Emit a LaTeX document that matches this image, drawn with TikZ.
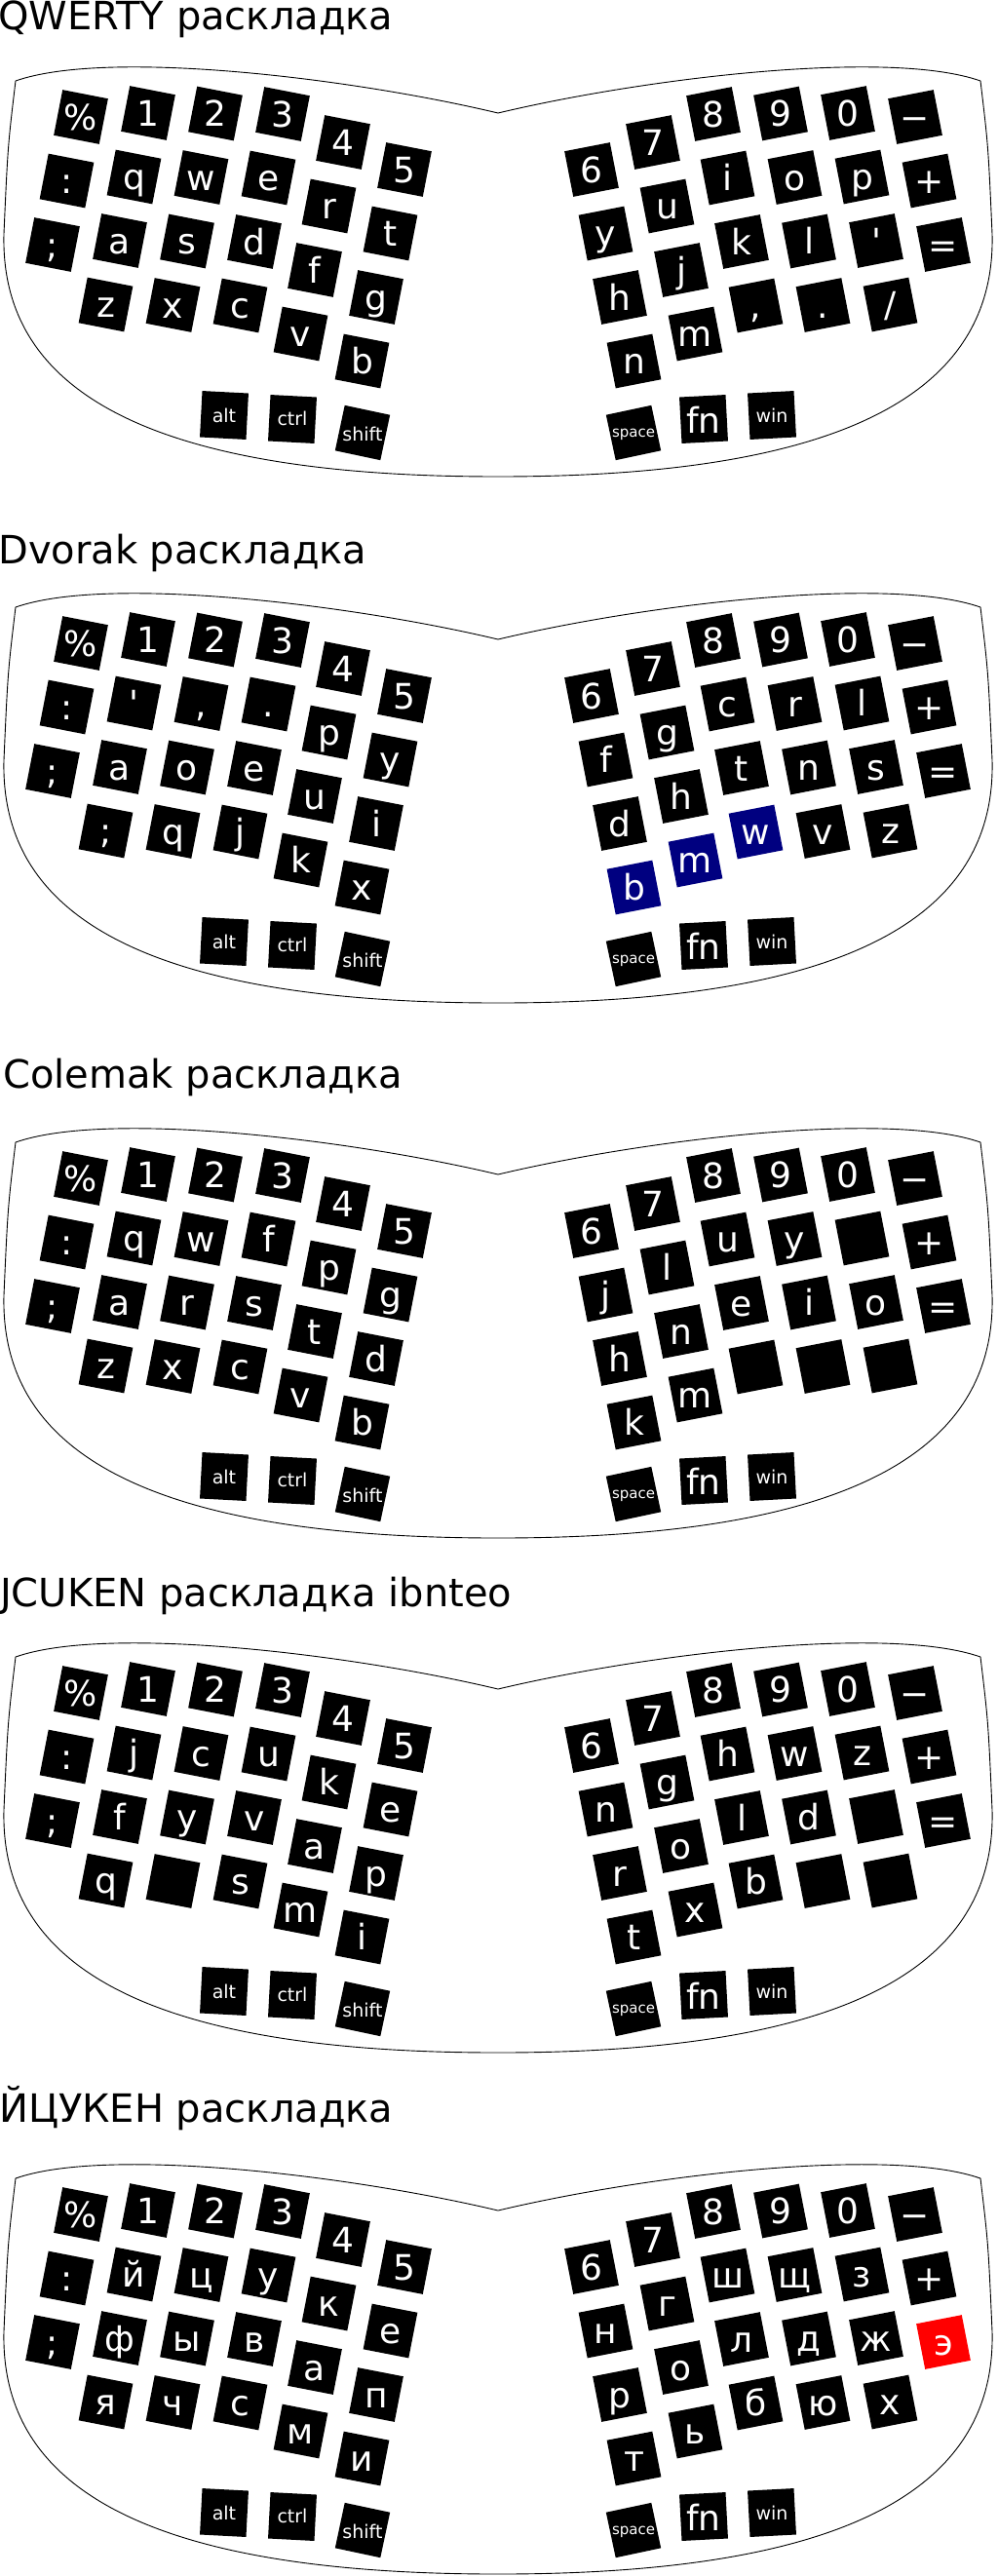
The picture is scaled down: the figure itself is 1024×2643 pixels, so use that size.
\documentclass[tikz,border=0pt]{standalone}
\usepackage{fontspec}
\setmainfont{DejaVu Sans}
\newfontfamily\keyfont{DejaVu Sans}
\definecolor{keyblue}{RGB}{0,0,128}
\definecolor{keyred}{RGB}{255,0,0}
\def\colx{{83,152,221,290,352,415}}
\def\coly{{120,116,116.5,117,146,174}}
\newcommand\keyL[5]{%
  \pgfmathsetmacro\kx{\colx[#2]-14.5*#1}%
  \pgfmathsetmacro\ky{\coly[#2]+65.5*#1}%
  \node[key, fill=#4, rotate=-11] (#5) at (\kx,\ky) {};
  \node[klbl] (t#5) at ([yshift=-13pt]#5.center) {#3};
}
\newcommand\keyR[5]{%
  \pgfmathtruncatemacro\kj{5-#2}%
  \pgfmathsetmacro\kx{1022-\colx[\kj]+14.5*#1}%
  \pgfmathsetmacro\ky{\coly[\kj]+65.5*#1}%
  \node[key, fill=#4, rotate=11] (#5) at (\kx,\ky) {};
  \node[klbl] (t#5) at ([yshift=-13pt]#5.center) {#3};
}
\begin{document}
\begin{tikzpicture}[x=1pt, y=-1pt,
  key/.style={fill=black, minimum size=47.5pt, inner sep=0pt, outer sep=0pt},
  klbl/.style={anchor=base, inner sep=0pt, text=white, font=\keyfont\fontsize{36}{36}\selectfont},
  ksmall/.style={klbl, font=\keyfont\fontsize{19}{19}\selectfont},
  kspace/.style={klbl, font=\keyfont\fontsize{15}{15}\selectfont},
  title/.style={anchor=base west, inner sep=0pt, font=\fontsize{40}{40}\selectfont},
  case/.style={draw=black, line width=0.9pt}]
\useasboundingbox (0,0) rectangle (1024,2643);
\foreach \dy/\n in {0/q,540/d,1089/c,1617/j,2152/y}
{
  \begin{scope}[shift={(0,\dy)}]
    \draw[case] (511,116) .. controls (360,80) and (110,50) .. (16,83)
      .. controls (8,150) .. (4,240)
      .. controls (0,400) and (150,489) .. (511,489)
      .. controls (872,489) and (1022,400) .. (1018,240)
      .. controls (1014,150) .. (1006,83)
      .. controls (912,50) and (662,80) .. (511,116) -- cycle;
    \foreach \t [count=\c from 0] in {\%,1,2,3,4,5} {\keyL{0}{\c}{\t}{black}{\n-L0-\c}}
    \foreach \t [count=\c from 0] in {6,7,8,9,0,−} {\keyR{0}{\c}{\t}{black}{\n-R0-\c}}
    \foreach \x/\y/\a/\t/\s/\b in {230/426/-3/alt/ksmall/7, 300/430/-3/ctrl/ksmall/6,
      372/444/-12/shift/ksmall/8, 650/444/12/space/kspace/4, 722/430/3/fn/klbl/14,
      792/426/3/win/ksmall/7}
    {
      \node[key, rotate=\a] (\n-\t) at (\x,\y) {};
      \node[\s] (t\n-\t) at ([yshift=-\b pt]\n-\t.center) {\t};
    }
  \end{scope}
}
\begin{scope}[shift={(0,0)}]
  \node[title] (qtitle) at (-2,30) {QWERTY раскладка};
  \foreach \t [count=\c from 0] in {:,q,w,e,r,t} {\keyL{1}{\c}{\t}{black}{q-L1-\c}}
  \foreach \t [count=\c from 0] in {;,a,s,d,f,g} {\keyL{2}{\c}{\t}{black}{q-L2-\c}}
  \foreach \t [count=\c from 1] in {z,x,c,v,b} {\keyL{3}{\c}{\t}{black}{q-L3-\c}}
  \foreach \t [count=\c from 0] in {y,u,i,o,p,+} {\keyR{1}{\c}{\t}{black}{q-R1-\c}}
  \foreach \t [count=\c from 0] in {h,j,k,l,',=} {\keyR{2}{\c}{\t}{black}{q-R2-\c}}
  \foreach \t [count=\c from 0] in {n,m,{,},.,/} {\keyR{3}{\c}{\t}{black}{q-R3-\c}}
\end{scope}
\begin{scope}[shift={(0,540)}]
  \node[title] (dtitle) at (-2,38) {Dvorak раскладка};
  \foreach \t [count=\c from 0] in {:,',{,},.,p,y} {\keyL{1}{\c}{\t}{black}{d-L1-\c}}
  \foreach \t [count=\c from 0] in {;,a,o,e,u,i} {\keyL{2}{\c}{\t}{black}{d-L2-\c}}
  \foreach \t [count=\c from 1] in {;,q,j,k,x} {\keyL{3}{\c}{\t}{black}{d-L3-\c}}
  \foreach \t [count=\c from 0] in {f,g,c,r,l,+} {\keyR{1}{\c}{\t}{black}{d-R1-\c}}
  \foreach \t [count=\c from 0] in {d,h,t,n,s,=} {\keyR{2}{\c}{\t}{black}{d-R2-\c}}
  \foreach \t/\f [count=\c from 0] in {b/keyblue,m/keyblue,w/keyblue,v/black,z/black} {\keyR{3}{\c}{\t}{\f}{d-R3-\c}}
\end{scope}
\begin{scope}[shift={(0,1089)}]
  \node[title] (ctitle) at (3,27) {Colemak раскладка};
  \foreach \t [count=\c from 0] in {:,q,w,f,p,g} {\keyL{1}{\c}{\t}{black}{c-L1-\c}}
  \foreach \t [count=\c from 0] in {;,a,r,s,t,d} {\keyL{2}{\c}{\t}{black}{c-L2-\c}}
  \foreach \t [count=\c from 1] in {z,x,c,v,b} {\keyL{3}{\c}{\t}{black}{c-L3-\c}}
  \foreach \t [count=\c from 0] in {j,l,u,y,{},+} {\keyR{1}{\c}{\t}{black}{c-R1-\c}}
  \foreach \t [count=\c from 0] in {h,n,e,i,o,=} {\keyR{2}{\c}{\t}{black}{c-R2-\c}}
  \foreach \t [count=\c from 0] in {k,m,{},{},{}} {\keyR{3}{\c}{\t}{black}{c-R3-\c}}
\end{scope}
\begin{scope}[shift={(0,1617)}]
  \node[title] (jtitle) at (0,31) {JCUKEN раскладка ibnteo};
  \foreach \t [count=\c from 0] in {:,j,c,u,k,e} {\keyL{1}{\c}{\t}{black}{j-L1-\c}}
  \foreach \t [count=\c from 0] in {;,f,y,v,a,p} {\keyL{2}{\c}{\t}{black}{j-L2-\c}}
  \foreach \t [count=\c from 1] in {q,{},s,m,i} {\keyL{3}{\c}{\t}{black}{j-L3-\c}}
  \foreach \t [count=\c from 0] in {n,g,h,w,z,+} {\keyR{1}{\c}{\t}{black}{j-R1-\c}}
  \foreach \t [count=\c from 0] in {r,o,l,d,{},=} {\keyR{2}{\c}{\t}{black}{j-R2-\c}}
  \foreach \t [count=\c from 0] in {t,x,b,{},{}} {\keyR{3}{\c}{\t}{black}{j-R3-\c}}
\end{scope}
\begin{scope}[shift={(0,2152)}]
  \node[title] (ytitle) at (-1,25) {ЙЦУКЕН раскладка};
  \foreach \t [count=\c from 0] in {:,й,ц,у,к,е} {\keyL{1}{\c}{\t}{black}{y-L1-\c}}
  \foreach \t [count=\c from 0] in {;,ф,ы,в,а,п} {\keyL{2}{\c}{\t}{black}{y-L2-\c}}
  \foreach \t [count=\c from 1] in {я,ч,с,м,и} {\keyL{3}{\c}{\t}{black}{y-L3-\c}}
  \foreach \t [count=\c from 0] in {н,г,ш,щ,з,+} {\keyR{1}{\c}{\t}{black}{y-R1-\c}}
  \foreach \t/\f [count=\c from 0] in {р/black,о/black,л/black,д/black,ж/black,э/keyred} {\keyR{2}{\c}{\t}{\f}{y-R2-\c}}
  \foreach \t [count=\c from 0] in {т,ь,б,ю,х} {\keyR{3}{\c}{\t}{black}{y-R3-\c}}
\end{scope}
\end{tikzpicture}
\end{document}
